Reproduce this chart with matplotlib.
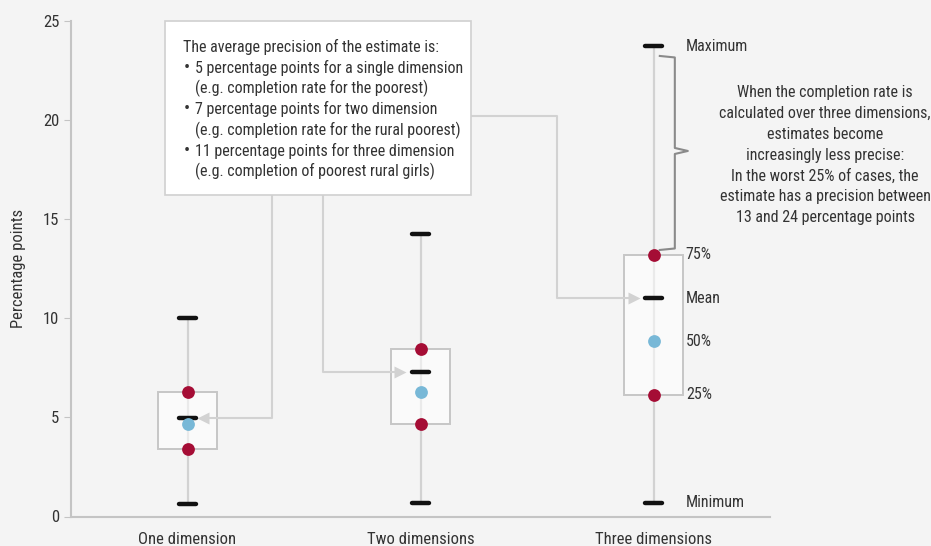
import matplotlib
matplotlib.use("Agg")
import matplotlib.pyplot as plt
from matplotlib import font_manager
from matplotlib.patches import Rectangle

names = {f.name for f in font_manager.fontManager.ttflist}
for cand in ["Liberation Sans Narrow", "Roboto Condensed", "Open Sans Condensed", "Noto Sans", "DejaVu Sans"]:
    if cand in names:
        FONT = cand
        break
plt.rcParams["font.family"] = [FONT, "DejaVu Sans"]

# ---- data ----
categories = ["One dimension", "Two dimensions", "Three dimensions"]
minimum = [0.62, 0.67, 0.70]
q1 = [3.42, 4.65, 6.15]
median = [4.69, 6.30, 8.85]
mean = [4.99, 7.28, 11.02]
q3 = [6.26, 8.45, 13.2]
maximum = [10.0, 14.28, 23.73]
yticks = [0, 5, 10, 15, 20, 25]

box_lines = [
    ("", "The average precision of the estimate is:"),
    ("•", "5 percentage points for a single dimension"),
    ("", "(e.g. completion rate for the poorest)"),
    ("•", "7 percentage points for two dimension"),
    ("", "(e.g. completion rate for the rural poorest)"),
    ("•", "11 percentage points for three dimension"),
    ("", "(e.g. completion of poorest rural girls)"),
]
right_note = ["When the completion rate is", "calculated over three dimensions,", "estimates become",
              "increasingly less precise:", "In the worst 25% of cases, the",
              "estimate has a precision between", "13 and 24 percentage points"]
side_labels = ["Maximum", "75%", "Mean", "50%", "25%", "Minimum"]

BG = "#f4f4f4"
RED = "#a50d35"
BLUE = "#78b8d7"
LGRAY = "#d2d2d2"
TXT = "#333333"

W, H = 931, 546
fig = plt.figure(figsize=(W / 100, H / 100), dpi=100, facecolor=BG)
ax = fig.add_axes([71 / W, 1 - 516.5 / H, (770 - 71) / W, (516.5 - 21.2) / H])
ax.set_facecolor(BG)
ax.set_xlim(-0.5, 2.5)
ax.set_ylim(0, 25)

for s in ["top", "right"]:
    ax.spines[s].set_visible(False)
for s in ["left", "bottom"]:
    ax.spines[s].set_color("#c4c4c4")
    ax.spines[s].set_linewidth(1.5)
ax.set_yticks(yticks)
ax.tick_params(axis="y", colors="#c4c4c4", labelcolor=TXT, labelsize=12, length=5)
ax.set_xticks(range(len(categories)))
ax.set_xticklabels(categories, fontsize=12, color=TXT)
ax.tick_params(axis="x", length=0, pad=11)
ax.set_ylabel("Percentage points", fontsize=12, color=TXT, labelpad=12)

bw = 0.25
cw = 0.038
for i in range(len(categories)):
    ax.plot([i, i], [minimum[i], maximum[i]], color=LGRAY, lw=1.6, zorder=1, solid_capstyle="butt")
    ax.add_patch(Rectangle((i - bw / 2, q1[i]), bw, q3[i] - q1[i], facecolor=(1, 1, 1, 0.55),
                           edgecolor="#c6c6c6", lw=1.4, zorder=2))
    for v in (minimum[i], maximum[i], mean[i]):
        ax.plot([i - cw, i + cw], [v, v], color="#111111", lw=3.2, zorder=4, solid_capstyle="round")
    ax.plot([i, i], [q1[i], q3[i]], "o", color=RED, ms=9.2, zorder=5, mec="none")
    ax.plot([i], [median[i]], "o", color=BLUE, ms=9.2, zorder=5, mec="none")

def px(x):
    return (x - 188.3) / 232.7

def py(y):
    return (516.5 - y) / 19.81

# connectors
conn = dict(color=LGRAY, lw=1.5, clip_on=False, zorder=3)
ax.plot([px(272.7), px(272.7), px(209)], [py(195.3), mean[0], mean[0]], **conn)
ax.plot([px(204)], [mean[0]], marker="<", ms=9, color=LGRAY, mec="none", clip_on=False, zorder=3)
ax.plot([px(323.3), px(323.3), px(396)], [py(195.3), mean[1], mean[1]], **conn)
ax.plot([px(401)], [mean[1]], marker=">", ms=9, color=LGRAY, mec="none", clip_on=False, zorder=3)
ax.plot([px(470.7), px(557), px(557), px(629)], [py(116), py(116), mean[2], mean[2]], **conn)
ax.plot([px(634.5)], [mean[2]], marker=">", ms=9, color=LGRAY, mec="none", clip_on=False, zorder=3)

# text box
fig.add_artist(Rectangle((165.3 / W, 1 - 195.3 / H), (470.7 - 165.3) / W, (195.3 - 21) / H,
                         transform=fig.transFigure, facecolor="white", edgecolor="#d0d0d0", lw=1.2,
                         zorder=6))
ys = [46.7, 67.7, 88.2, 109, 130, 151, 171.7]
for (b, t), y in zip(box_lines, ys):
    if b:
        fig.text(184 / W, 1 - y / H, b, fontsize=13, color=TXT, va="center", ha="left", zorder=7)
    x0 = 182.7 if (not b and t.startswith("The")) else 195
    fig.text(x0 / W, 1 - y / H, t, fontsize=11.5, color=TXT, va="center", ha="left", zorder=7)

# brace
bx0, bx1, bx2 = px(660), px(675), px(688)
verts = [(bx0, py(56)), (bx1, py(57.5)), (bx1, py(60)), (bx1, py(148)), (bx2, py(151)),
         (bx1, py(154)), (bx1, py(246)), (bx1, py(248.5)), (bx0, py(250))]
ax.plot([v[0] for v in verts], [v[1] for v in verts], color="#8a8a8a", lw=1.5, clip_on=False,
        solid_joinstyle="round")

note_y = [92.7, 113.5, 134.3, 155.2, 176, 196.7, 217.3]
for line, y in zip(right_note, note_y):
    fig.text(825 / W, 1 - y / H, line, fontsize=11.5, color=TXT, ha="center", va="center")

label_y = [maximum[2], q3[2], mean[2], median[2], q1[2], minimum[2]]
for lab, v in zip(side_labels, label_y):
    ax.text(px(686), v, lab, fontsize=11.5, color=TXT, va="center", ha="left", clip_on=False)

fig.savefig("out.png", dpi=100, facecolor=BG)
